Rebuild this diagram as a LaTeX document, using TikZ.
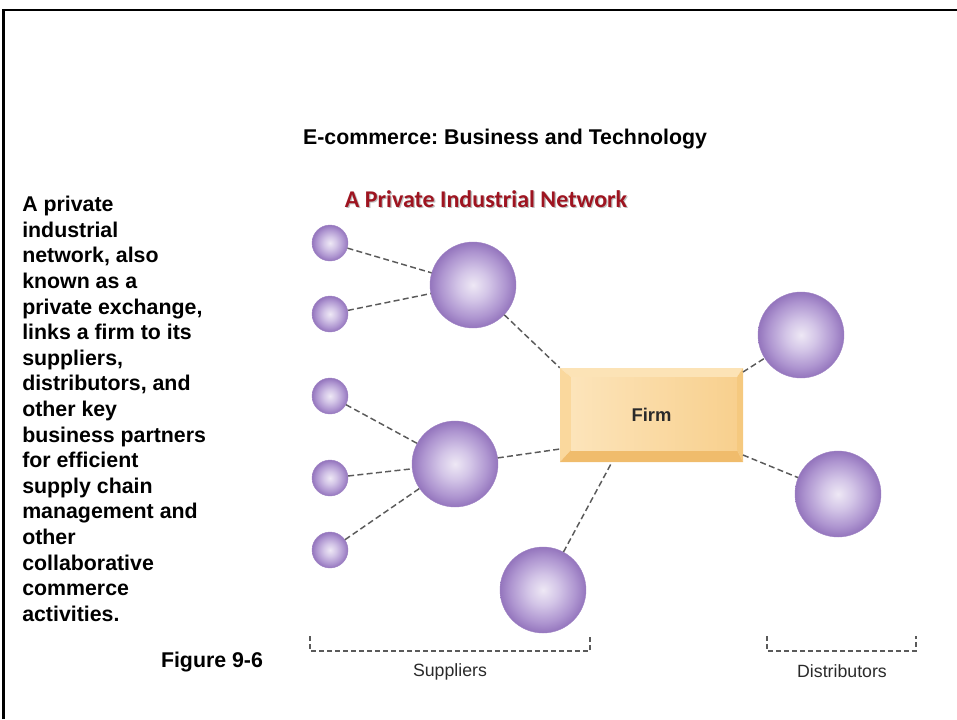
\documentclass[tikz,border=0pt]{standalone}
\usepackage{fontspec}
\setmainfont{Liberation Sans}
\newfontfamily\carlitofont{Carlito}
\usetikzlibrary{calc}
\frenchspacing
\definecolor{sphA}{HTML}{EEE8F5}
\definecolor{sphB}{HTML}{D3C5E7}
\definecolor{sphC}{HTML}{AE95D0}
\definecolor{sphD}{HTML}{9475BD}
\definecolor{sphEdge}{HTML}{9E82C3}
\definecolor{netred}{HTML}{9E1420}
\definecolor{bevTop}{HTML}{FCE3B6}
\definecolor{bevLeft}{HTML}{FAD89D}
\definecolor{bevRight}{HTML}{F5C97F}
\definecolor{bevBot}{HTML}{F0BC6C}
\definecolor{firmL}{HTML}{FCE4BA}
\definecolor{firmR}{HTML}{F8D08E}
\definecolor{connGray}{HTML}{5A5A5A}
\definecolor{labGray}{HTML}{2A2A2A}
\pgfdeclareradialshading{sphereshade}{\pgfpoint{0bp}{0bp}}{color(0bp)=(sphA); color(9bp)=(sphB); color(19bp)=(sphC); color(25bp)=(sphD); color(50bp)=(sphD)}
\begin{document}
\begin{tikzpicture}[x=0.75pt,y=-0.75pt,
  sphsmall/.style={circle, minimum size=27pt, inner sep=0pt, shading=sphereshade, draw=sphEdge, line width=0.3pt},
  sphbig/.style={circle, minimum size=64.5pt, inner sep=0pt, shading=sphereshade, draw=sphEdge, line width=0.3pt},
  conn/.style={draw=connGray, line width=1.1pt, dash pattern=on 4.5pt off 2.5pt},
  bracketline/.style={draw=connGray, line width=0.8pt, dash pattern=on 4pt off 2pt},
  label/.style={font=\fontsize{13.3}{16}\selectfont, text=labGray, inner sep=0pt}
]
\useasboundingbox (0,0) rectangle (957,719);
% frame
\draw[line width=2.2pt] (3.5,719) -- (3.5,10) -- (957,10);

% title
\node[font=\bfseries\fontsize{16}{19}\selectfont, inner sep=0pt] (title) at (505,139) {E-commerce: Business and Technology};
\node[font=\carlitofont\bfseries\fontsize{18}{21}\selectfont, text=black!25, inner sep=0pt] (subshadow) at (487.3,200.3) {A Private Industrial Network};
\node[font=\carlitofont\bfseries\fontsize{18}{21}\selectfont, text=netred, inner sep=0pt] (subtitle) at (486,199) {A Private Industrial Network};

% left text
\node[font=\bfseries\fontsize{16}{19.2}\selectfont, align=left, anchor=north west, inner sep=0pt] (desc) at (22,196) {A private\\industrial\\network, also\\known as a\\private exchange,\\links a firm to its\\suppliers,\\distributors, and\\other key\\business partners\\for efficient\\supply chain\\management and\\other\\collaborative\\commerce\\activities.};
\node[font=\bfseries\fontsize{16}{19}\selectfont, inner sep=0pt] (fig) at (212,662) {Figure 9-6};

% firm box (bevel)
\fill[bevTop] (560,368) -- (743,368) -- (737,377) -- (571,377) -- cycle;
\fill[bevLeft] (560,368) -- (571,377) -- (571,450) -- (560,462) -- cycle;
\fill[bevRight] (743,368) -- (743,462) -- (737,450) -- (737,377) -- cycle;
\fill[bevBot] (560,462) -- (743,462) -- (737,450) -- (571,450) -- cycle;
\shade[left color=firmL, right color=firmR] (571,377) rectangle (737,450);
\node[minimum width=137.25pt, minimum height=70.5pt, inner sep=0pt, font=\bfseries\fontsize{13.8}{16}\selectfont, text=labGray] (firm) at (651.5,415) {Firm};

% spheres
\node[sphsmall] (s1) at (330,243) {};
\node[sphsmall] (s2) at (330,314) {};
\node[sphsmall] (s3) at (330,396) {};
\node[sphsmall] (s4) at (330,478) {};
\node[sphsmall] (s5) at (330,550) {};
\node[sphbig] (b1) at (473,285) {};
\node[sphbig] (b2) at (455,464) {};
\node[sphbig] (b3) at (543,590) {};
\node[sphbig] (d1) at (801,335) {};
\node[sphbig] (d2) at (838,494) {};

% connector end points on the firm box
\coordinate (fL) at (560,449);
\coordinate (fB) at (612,462);
\coordinate (fTR) at (743,372);
\coordinate (fBR) at (743,455);

% connectors
\draw[conn] (s1) -- (b1);
\draw[conn] (s2) -- (b1);
\draw[conn] (b1) -- (firm.north west);
\draw[conn] (s3) -- (b2);
\draw[conn] (s4) -- (b2);
\draw[conn] (s5) -- (b2);
\draw[conn] (b2) -- (fL);
\draw[conn] (b3) -- (fB);
\draw[conn] (fTR) -- (d1);
\draw[conn] (fBR) -- (d2);

% brackets
\draw[bracketline] (310,636) -- (310,651) -- (590,651) -- (590,636);
\draw[bracketline] (767,636) -- (767,651) -- (916,651) -- (916,636);
\node[label] (sup) at (450,672) {Suppliers};
\node[label] (dist) at (842,671) {Distributors};
\end{tikzpicture}
\end{document}
